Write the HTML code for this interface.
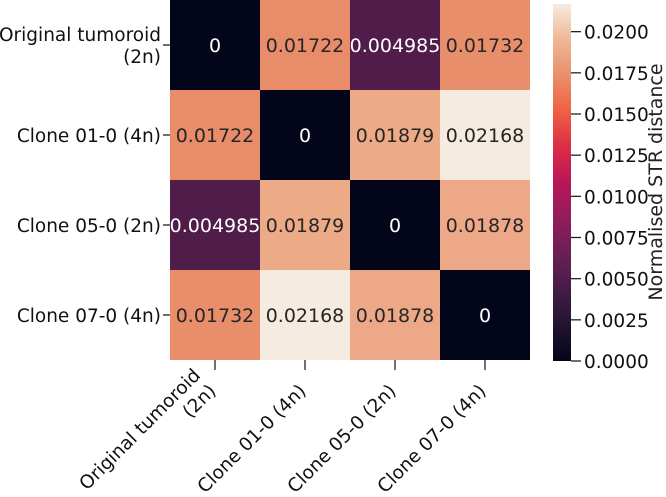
<!DOCTYPE html>
<html><head><meta charset="utf-8"><style>
body{margin:0;background:#fff}
svg text{font-family:"DejaVu Sans","Liberation Sans",sans-serif;}
</style></head><body>
<svg id="c" width="666" height="492" viewBox="0 0 666 492">
<defs><linearGradient id="rk" x1="0" y1="1" x2="0" y2="0">
<stop offset="0" stop-color="#03051a"/><stop offset="0.1" stop-color="#221331"/><stop offset="0.2" stop-color="#451c47"/><stop offset="0.3" stop-color="#6a1f56"/><stop offset="0.4" stop-color="#921c5b"/><stop offset="0.5" stop-color="#b91657"/><stop offset="0.6" stop-color="#dd2c45"/><stop offset="0.7" stop-color="#f06043"/><stop offset="0.8" stop-color="#e98f6b"/><stop offset="0.9" stop-color="#efb795"/><stop offset="1" stop-color="#f5ebe0"/>
</linearGradient></defs>
<g id="cells"></g>
<rect x="553" y="4" width="18" height="357" fill="url(#rk)"/>
<g id="cbt"></g>
<text transform="translate(662,182) rotate(-90)" text-anchor="middle" font-size="19" fill="#222">Normalised STR distance</text>
</svg>
<script>
const labels=[["Original tumoroid","(2n)"],["Clone 01-0 (4n)"],["Clone 05-0 (2n)"],["Clone 07-0 (4n)"]];
const values=[[0,0.01722,0.004985,0.01732],[0.01722,0,0.01879,0.02168],[0.004985,0.01879,0,0.01878],[0.01732,0.02168,0.01878,0]];
const printed=[["0","0.01722","0.004985","0.01732"],["0.01722","0","0.01879","0.02168"],["0.004985","0.01879","0","0.01878"],["0.01732","0.02168","0.01878","0"]];
const cbTicks=[0,0.0025,0.005,0.0075,0.01,0.0125,0.015,0.0175,0.02];
const vmax=0.02168;
const stops=["#03051a","#221331","#451c47","#6a1f56","#921c5b","#b91657","#dd2c45","#f06043","#e98f6b","#efb795","#f5ebe0"];
function hex(h){return [1,3,5].map(i=>parseInt(h.substr(i,2),16));}
function cmap(v){let t=Math.max(0,Math.min(1,v/vmax))*10;let i=Math.min(9,Math.floor(t)),f=t-i;const a=hex(stops[i]),b=hex(stops[i+1]);return "rgb("+a.map((x,k)=>Math.round(x+(b[k]-x)*f)).join(",")+")";}
const X0=170,Y0=0,CW=90,CH=90;
const xs=i=>X0+i*CW, ys=j=>Y0+j*CH;
const cbY=v=>361-v/vmax*357;
const NS="http://www.w3.org/2000/svg";
const svg=document.getElementById('c'),g=document.getElementById('cells'),cb=document.getElementById('cbt');
function mk(t,a,p){const e=document.createElementNS(NS,t);for(const k in a)e.setAttribute(k,a[k]);(p||svg).appendChild(e);return e;}
values.forEach((row,j)=>row.forEach((v,i)=>{
 const r=mk('rect',{x:xs(i),y:ys(j),width:CW,height:CH,fill:cmap(v)},g);
 
 
 const t=mk('text',{x:xs(i)+CW/2,y:ys(j)+CH/2+7,'text-anchor':'middle','font-size':19,fill:v/vmax<0.5?'#fff':'#262626'},g);
 t.textContent=printed[j][i];
 
 
}));
labels.forEach((l,k)=>{
 const yc=ys(k)+CH/2;
 mk('line',{x1:xs(0)-7,x2:xs(0),y1:yc,y2:yc,stroke:'#222','stroke-width':1.3});
 const t=mk('text',{x:xs(0)-9,y:yc+7-(l.length-1)*11,'text-anchor':'end','font-size':18.5,fill:'#111'});
 
 
 l.forEach((s,n)=>{const ts=mk('tspan',{x:xs(0)-9,dy:n?22:0},t);ts.textContent=s;});
 const xc=xs(k)+CW/2;
 mk('line',{x1:xc,x2:xc,y1:360,y2:370,stroke:'#222','stroke-width':1.3});
 const tx=mk('text',{transform:`translate(${xc+2},${392}) rotate(-45)`,'text-anchor':'end','font-size':18.5,fill:'#111'});
 
 
 l.forEach((s,n)=>{const ts=mk('tspan',{x:0,y:(n-(l.length-1))*22},tx);ts.textContent=s;});
});
cbTicks.forEach(v=>{
 const y=cbY(v);
 mk('line',{x1:571,x2:581,y1:y,y2:y,stroke:'#222','stroke-width':1.3},cb);
 const t=mk('text',{x:584,y:y+7,'font-size':18.5,fill:'#111'},cb);
 t.textContent=v.toFixed(4);
 
 
});
</script>
</body></html>
